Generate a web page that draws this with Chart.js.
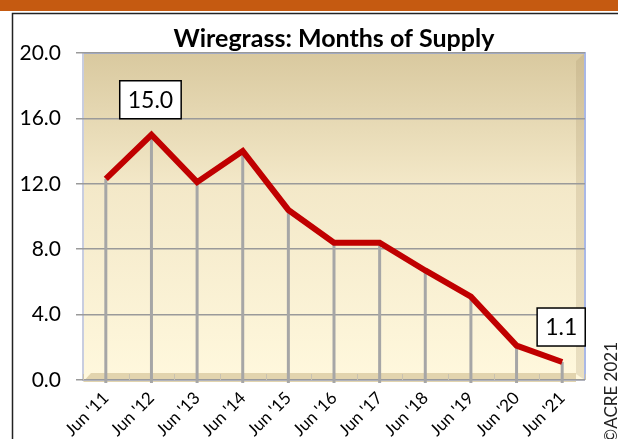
<!DOCTYPE html>
<html>
<head>
<meta charset="utf-8">
<script src="https://cdn.jsdelivr.net/npm/chart.js@4"></script>
<style>
  html, body { margin: 0; padding: 0; background: #fff; }
  #wrap { width: 618px; height: 439px; position: relative; }
</style>
</head>
<body>
<div id="wrap"><canvas id="chart"></canvas></div>
<script>
// data
const months = ["Jun '11", "Jun '12", "Jun '13", "Jun '14", "Jun '15", "Jun '16", "Jun '17", "Jun '18", "Jun '19", "Jun '20", "Jun '21"];
const supply = [12.3, 15.0, 12.1, 14.0, 10.4, 8.4, 8.4, 6.7, 5.1, 2.1, 1.1];
const labelled = [1, 10]; // points that get a value box
const yTicks = [0, 4, 8, 12, 16, 20];

const FONT = 'Lato, "Open Sans", sans-serif';

// frame, wall, floor, drop lines, value boxes, title
const decor = {
  id: 'decor',
  beforeDraw(chart) {
    const { ctx, chartArea: a } = chart;
    ctx.save();
    // orange band + frame
    ctx.fillStyle = '#c55a11';
    ctx.fillRect(0, 0, chart.width, 11);
    ctx.strokeStyle = '#222';
    ctx.lineWidth = 1.5;
    ctx.beginPath();
    ctx.moveTo(12.5, chart.height);
    ctx.lineTo(12.5, 13.5);
    ctx.lineTo(chart.width, 13.5);
    ctx.stroke();

    // back wall gradient
    const g = ctx.createLinearGradient(0, a.top, 0, a.bottom);
    g.addColorStop(0, '#d9c99f');
    g.addColorStop(0.4, '#f3e8c8');
    g.addColorStop(1, '#fff8dd');
    ctx.fillStyle = g;
    ctx.fillRect(a.left, a.top, a.right - a.left, a.bottom - a.top);
    // side panel
    ctx.fillStyle = 'rgba(170,150,110,0.25)';
    ctx.beginPath();
    ctx.moveTo(a.right - 9, a.top + 8);
    ctx.lineTo(a.right, a.top);
    ctx.lineTo(a.right, a.bottom);
    ctx.lineTo(a.right - 9, a.bottom - 6);
    ctx.closePath();
    ctx.fill();
    // floor
    ctx.fillStyle = '#e2d4ae';
    ctx.beginPath();
    ctx.moveTo(a.left + 8, a.bottom - 7);
    ctx.lineTo(a.right - 9, a.bottom - 7);
    ctx.lineTo(a.right - 9, a.bottom + 2);
    ctx.lineTo(a.left, a.bottom + 2);
    ctx.closePath();
    ctx.fill();
    // wall edge
    ctx.strokeStyle = '#a9b8e6';
    ctx.lineWidth = 2;
    ctx.beginPath();
    ctx.moveTo(a.left, a.top);
    ctx.lineTo(a.right, a.top);
    ctx.lineTo(a.right, a.bottom);
    ctx.stroke();
    ctx.strokeStyle = '#c8cde0';
    ctx.beginPath();
    ctx.moveTo(a.left, a.top);
    ctx.lineTo(a.left, a.bottom);
    ctx.lineTo(a.right, a.bottom);
    ctx.stroke();
    ctx.restore();
  },
  beforeDatasetsDraw(chart) {
    const { ctx, chartArea: a, scales: { x, y } } = chart;
    ctx.save();
    // minor ticks on the floor between categories
    ctx.strokeStyle = '#c9c2b0';
    ctx.lineWidth = 1;
    for (let i = 0; i <= months.length; i++) {
      const px = Math.round(x.getPixelForValue(i - 0.5)) + 0.5;
      ctx.beginPath();
      ctx.moveTo(px, a.bottom - 6);
      ctx.lineTo(px, a.bottom);
      ctx.stroke();
    }
    // drop lines
    ctx.strokeStyle = '#a6a6a6';
    ctx.lineWidth = 3;
    supply.forEach((v, i) => {
      const px = x.getPixelForValue(i);
      ctx.beginPath();
      ctx.moveTo(px, y.getPixelForValue(v));
      ctx.lineTo(px, a.bottom + 3);
      ctx.stroke();
    });
    ctx.restore();
  },
  afterDraw(chart) {
    const { ctx, chartArea: a, scales: { x, y } } = chart;
    ctx.save();
    // title
    ctx.fillStyle = '#000';
    ctx.font = 'bold 25px ' + FONT;
    ctx.textAlign = 'center';
    ctx.textBaseline = 'middle';
    ctx.fillText('Wiregrass: Months of Supply', (a.left + a.right) / 2, 39);

    // value boxes
    ctx.font = '23px ' + FONT;
    labelled.forEach(i => {
      const v = supply[i];
      const txt = v.toFixed(1);
      const cx = x.getPixelForValue(i) - 1;
      const cy = y.getPixelForValue(v) - 35;
      const w = ctx.measureText(txt).width + 16;
      const h = 38;
      ctx.fillStyle = '#fff';
      ctx.fillRect(cx - w / 2, cy - h / 2, w, h);
      ctx.strokeStyle = '#000';
      ctx.lineWidth = 1.5;
      ctx.strokeRect(cx - w / 2, cy - h / 2, w, h);
      ctx.fillStyle = '#000';
      ctx.fillText(txt, cx, cy + 1);
    });

    // copyright, runs off the bottom edge
    ctx.font = '17px ' + FONT;
    ctx.translate(617, 342);
    ctx.rotate(-Math.PI / 2);
    ctx.textAlign = 'right';
    ctx.textBaseline = 'alphabetic';
    ctx.fillStyle = '#222';
    ctx.fillText('\u00A9ACRE 2021', 0, 0);
    ctx.restore();
  }
};

new Chart(document.getElementById('chart'), {
  type: 'line',
  data: {
    labels: months,
    datasets: [{
      data: supply,
      borderColor: '#c00000',
      borderWidth: 6,
      pointRadius: 0,
      tension: 0,
      fill: false
    }]
  },
  options: {
    responsive: true,
    maintainAspectRatio: false,
    animation: false,
    layout: { padding: { top: 53, right: 33, left: 0, bottom: 0 } },
    plugins: { legend: { display: false }, tooltip: { enabled: false } },
    scales: {
      x: {
        offset: true,
        grid: { display: false },
        border: { display: false },
        ticks: {
          color: '#000',
          font: { family: FONT, size: 17 },
          maxRotation: 45,
          minRotation: 45,
          padding: 0
        },
        afterFit(scale) { scale.height = 59; }
      },
      y: {
        min: 0,
        max: 20,
        afterBuildTicks(scale) { scale.ticks = yTicks.map(v => ({ value: v })); },
        grid: { color: '#9a9a9a', lineWidth: 1.5, tickLength: 7 },
        border: { display: false },
        ticks: {
          color: '#000',
          font: { family: FONT, size: 21 },
          padding: 15,
          callback: v => v.toFixed(1)
        },
        afterFit(scale) { scale.width = 83; }
      }
    }
  },
  plugins: [decor]
});
</script>
</body>
</html>
